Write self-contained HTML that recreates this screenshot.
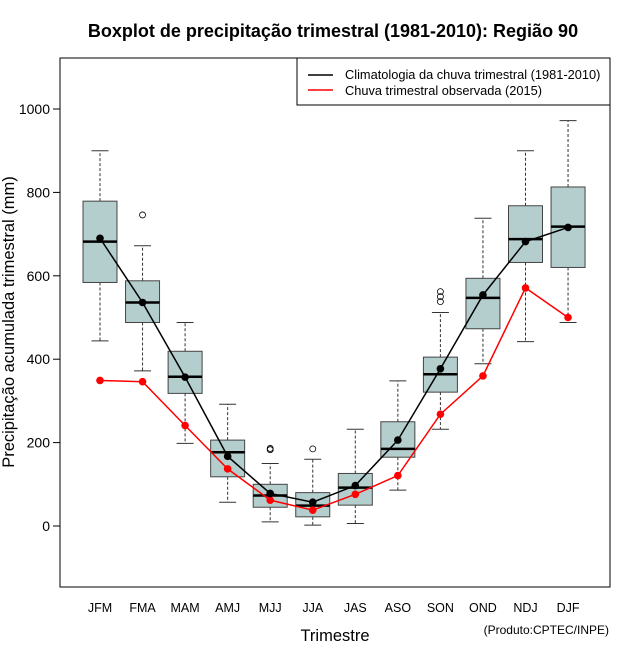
<!DOCTYPE html>
<html><head><meta charset="utf-8"><style>
body{margin:0;background:#fff;}
svg{display:block;font-family:"Liberation Sans",sans-serif;}
</style></head><body>
<svg id="c" width="640" height="660" xmlns="http://www.w3.org/2000/svg">
<text x="333" y="37" text-anchor="middle" font-size="18" font-weight="bold">Boxplot de precipitação trimestral (1981-2010): Região 90</text>
<rect x="60" y="58" width="550" height="529" fill="none" stroke="#000" stroke-width="1"/>
<text transform="translate(14,322) rotate(-90)" text-anchor="middle" font-size="16.5">Precipitação acumulada trimestral (mm)</text>
<text x="335" y="641" text-anchor="middle" font-size="16.5">Trimestre</text>
<text x="609" y="634" text-anchor="end" font-size="12">(Produto:CPTEC/INPE)</text>
<g>
<rect x="297" y="58" width="313" height="47" fill="#fff" stroke="#000"/>
<line x1="308" y1="75" x2="333" y2="75" stroke="#000" stroke-width="1.5"/>
<text x="345" y="79" font-size="12.8">Climatologia da chuva trimestral (1981-2010)</text>
<line x1="308" y1="90" x2="333" y2="90" stroke="#f00" stroke-width="1.5"/>
<text x="345" y="95" font-size="12.8">Chuva trimestral observada (2015)</text>
</g>
<g id="plot"></g>
</svg>
<script>
const categories=["JFM","FMA","MAM","AMJ","MJJ","JJA","JAS","ASO","SON","OND","NDJ","DJF"];
const whiskerLow=[444,372,198,57,10,2,6,86,232,389,442,488];
const q1=[584,488,318,118,45,22,50,165,321,473,632,620];
const median=[682,536,358,177,73,49,92,185,364,547,688,718];
const q3=[779,588,419,206,100,80,126,250,405,594,768,813];
const whiskerHigh=[900,672,488,292,150,160,232,348,512,738,900,972];
const outliers=[[],[746],[],[],[186,183],[185],[],[],[562,550,538],[],[],[]];
const climMean=[690,536,357,167,78,57,97,206,377,554,682,716];
const observed2015=[349,346,241,137,62,38,76,121,268,360,571,500];
const yTicks=[0,200,400,600,800,1000];

const NS="http://www.w3.org/2000/svg";
const g=document.getElementById("plot");
const X=i=>100+i*42.55;
const Y=v=>526-v*0.417;
function mk(t,a,p){const e=document.createElementNS(NS,t);for(const k in a)e.setAttribute(k,a[k]);(p||g).appendChild(e);return e;}

mk("line",{x1:60,x2:60,y1:Y(0),y2:Y(1000),stroke:"#000"});
yTicks.forEach(v=>{
  mk("line",{x1:53,x2:60,y1:Y(v),y2:Y(v),stroke:"#000"});
  const t=mk("text",{x:50,y:Y(v)+5,"text-anchor":"end","font-size":"14"});
  t.textContent=v;
  
  
});
categories.forEach((c,i)=>{
  const x=X(i);
  const wg=mk("g",{});
  
  
  mk("line",{x1:x,x2:x,y1:Y(q3[i]),y2:Y(whiskerHigh[i]),stroke:"#333","stroke-dasharray":"3,2"},wg);
  mk("line",{x1:x,x2:x,y1:Y(q1[i]),y2:Y(whiskerLow[i]),stroke:"#333","stroke-dasharray":"3,2"},wg);
  mk("line",{x1:x-8.5,x2:x+8.5,y1:Y(whiskerHigh[i]),y2:Y(whiskerHigh[i]),stroke:"#333"},wg);
  mk("line",{x1:x-8.5,x2:x+8.5,y1:Y(whiskerLow[i]),y2:Y(whiskerLow[i]),stroke:"#333"},wg);
  mk("rect",{x:x-17,y:Y(q3[i]),width:34,height:Y(q1[i])-Y(q3[i]),fill:"#b4cdcd",stroke:"#444"},wg);
  mk("line",{x1:x-17,x2:x+17,y1:Y(median[i]),y2:Y(median[i]),stroke:"#000","stroke-width":"2.5"},wg);
  outliers[i].forEach(v=>mk("circle",{cx:x,cy:Y(v),r:3,fill:"none",stroke:"#000","stroke-width":"0.8"},wg));
  const t=mk("text",{x:x,y:612,"text-anchor":"middle","font-size":"12.5"});
  t.textContent=c;
  
  
});
function series(vals,col,name){
  const p=mk("polyline",{points:vals.map((v,i)=>X(i)+","+Y(v)).join(" "),fill:"none",stroke:col,"stroke-width":"1.5"});
  
  
  vals.forEach((v,i)=>{
    const c=mk("circle",{cx:X(i),cy:Y(v),r:3.8,fill:col});
    
    
  });
}
series(observed2015,"#f00","observed-2015");
series(climMean,"#000","climatology-mean");
</script>
</body></html>
